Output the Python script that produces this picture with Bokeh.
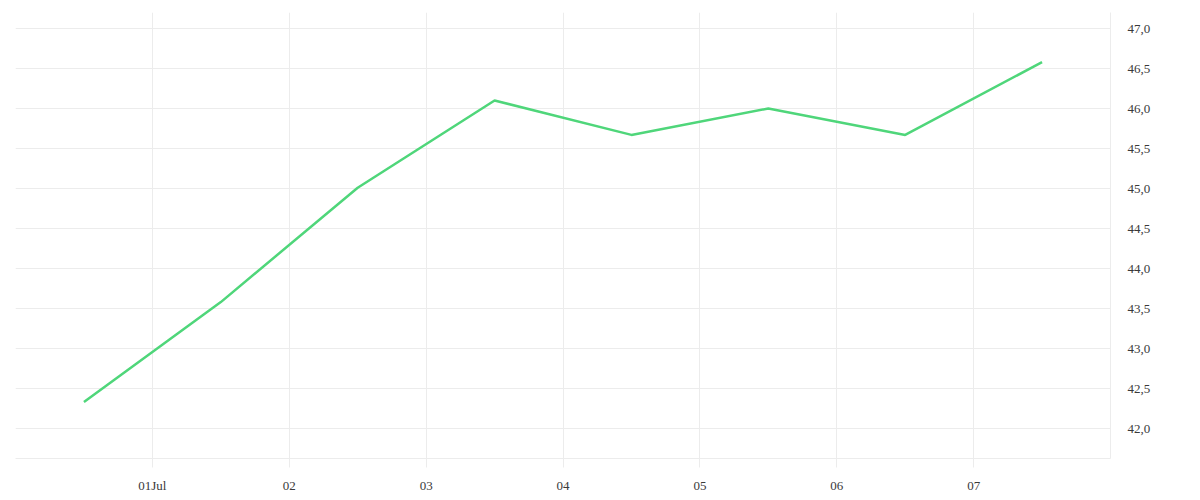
from datetime import datetime
from bokeh.plotting import figure
from bokeh.models import FixedTicker, CustomJSTickFormatter, Range1d
from bokeh.embed import file_html
from bokeh.resources import INLINE

# data
dates = ["2025-06-30 12:00", "2025-07-01 12:00", "2025-07-02 12:00", "2025-07-03 12:00",
         "2025-07-04 12:00", "2025-07-05 12:00", "2025-07-06 12:00", "2025-07-07 12:00"]
values = [42.33, 43.58, 45.01, 46.10, 45.67, 46.00, 45.67, 46.58]
tick_days = ["2025-07-01", "2025-07-02", "2025-07-03", "2025-07-04",
             "2025-07-05", "2025-07-06", "2025-07-07"]
tick_labels = ["01Jul", "02", "03", "04", "05", "06", "07"]
grid_days = ["2025-06-30"] + tick_days + ["2025-07-08"]
y_ticks = [42.0, 42.5, 43.0, 43.5, 44.0, 44.5, 45.0, 45.5, 46.0, 46.5, 47.0]
x_start, x_end = "2025-06-30", "2025-07-08"
y_start, y_end = 41.625, 47.2

def ms(s):
    fmt = "%Y-%m-%d %H:%M" if " " in s else "%Y-%m-%d"
    return (datetime.strptime(s, fmt) - datetime(1970, 1, 1)).total_seconds() * 1000

xs = [datetime.strptime(d, "%Y-%m-%d %H:%M") for d in dates]

GRID = "#ececec"
TEXT = "#3a3a3a"
FONT = "Liberation Serif"

p = figure(width=1195, height=495, x_axis_type="datetime", y_axis_location="right",
           output_backend="svg", toolbar_location=None,
           x_range=Range1d(ms(x_start), ms(x_end)), y_range=Range1d(y_start, y_end),
           min_border_left=15, min_border_top=12, min_border_right=85, min_border_bottom=37)
p.outline_line_color = None
p.background_fill_color = "white"
p.border_fill_color = "white"

p.line(xs, values, line_color="#4fd67a", line_width=2.5)

# x axis
xa = p.xaxis[0]
xa.ticker = FixedTicker(ticks=[ms(d) for d in tick_days])
xa.major_label_overrides = {ms(d): l for d, l in zip(tick_days, tick_labels)}
xa.axis_line_color = GRID
xa.major_tick_line_color = GRID
xa.major_tick_in = 0
xa.major_tick_out = 9
xa.minor_tick_line_color = None
xa.major_label_standoff = 10
xa.major_label_text_font = FONT
xa.major_label_text_font_size = "13px"
xa.major_label_text_color = TEXT

# y axis
ya = p.yaxis[0]
ya.ticker = FixedTicker(ticks=y_ticks)
ya.formatter = CustomJSTickFormatter(code="return tick.toFixed(1).replace('.', ',');")
ya.axis_line_color = GRID
ya.major_tick_line_color = None
ya.minor_tick_line_color = None
ya.major_tick_out = 0
ya.major_tick_in = 0
ya.major_label_standoff = 17
ya.major_label_text_font = FONT
ya.major_label_text_font_size = "13px"
ya.major_label_text_color = TEXT

p.xgrid.ticker = FixedTicker(ticks=[ms(d) for d in grid_days])
p.xgrid.grid_line_color = GRID
p.ygrid.ticker = FixedTicker(ticks=y_ticks)
p.ygrid.grid_line_color = GRID

open("out.html", "w").write(file_html(p, INLINE))
